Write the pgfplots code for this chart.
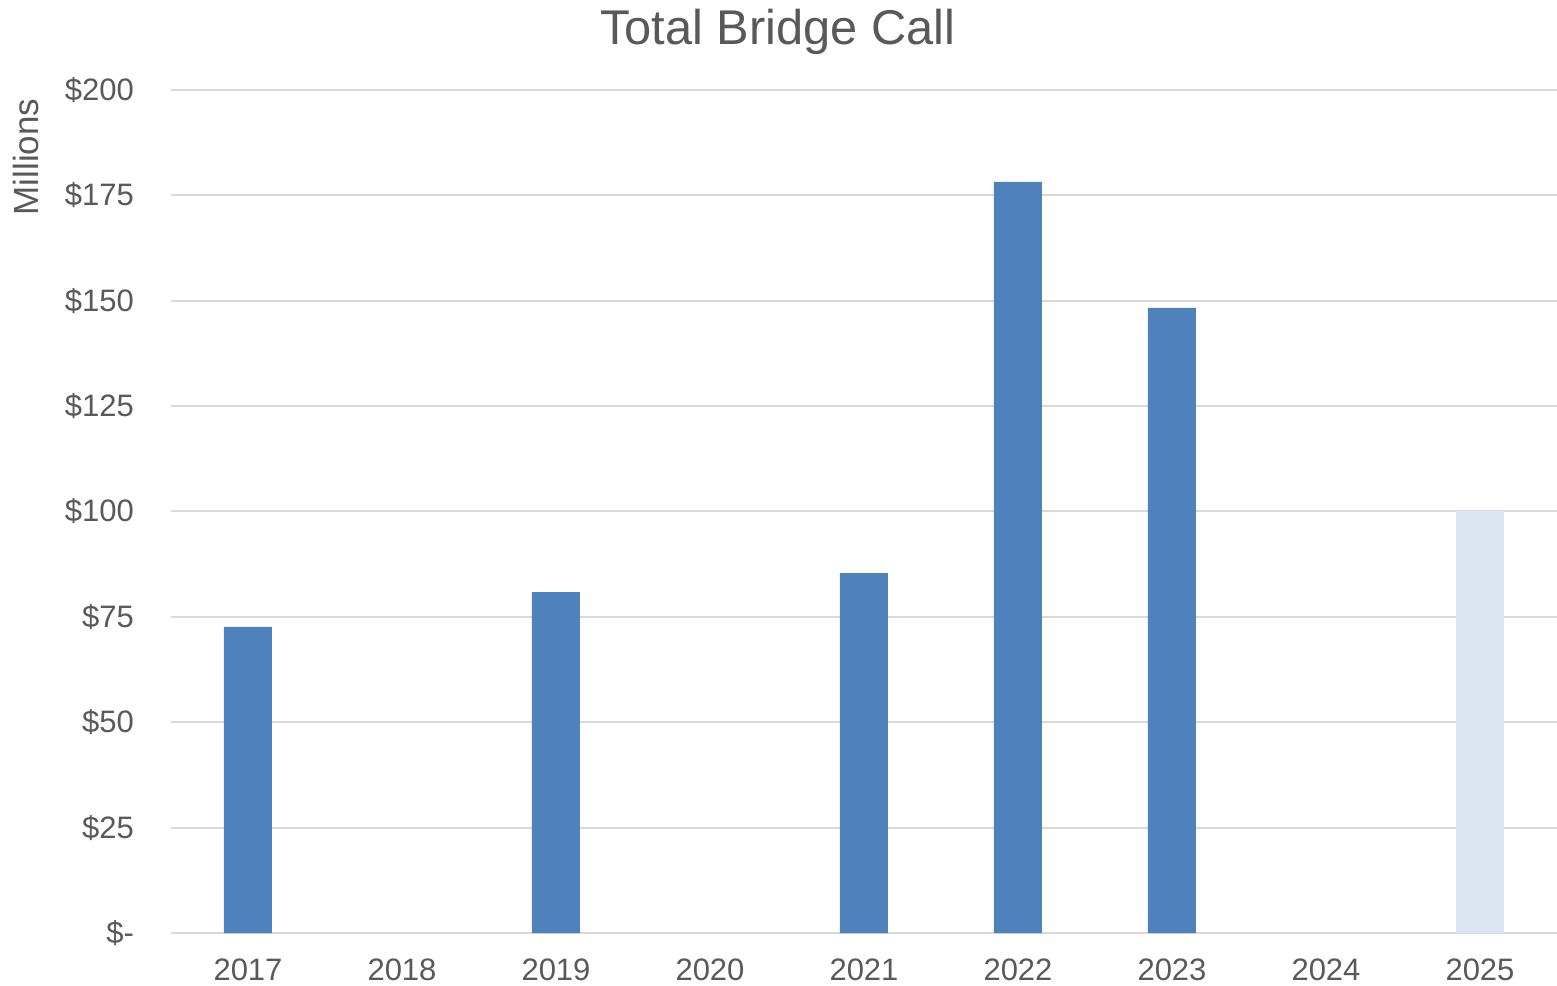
\documentclass[border=0pt]{standalone}
\usepackage{pgfplots}
\pgfplotsset{compat=1.18}
\usepackage{fontspec}
\setmainfont{Liberation Sans}
\definecolor{txt}{HTML}{595959}
\definecolor{barblue}{HTML}{4F81BD}
\definecolor{barlight}{HTML}{DCE6F2}
\definecolor{gridc}{HTML}{D9D9D9}
\begin{document}
\begin{tikzpicture}
\path[use as bounding box] (-85.5pt,-26pt) rectangle (693pt,466.5pt);
\begin{axis}[
  at={(0,0)}, anchor=south west,
  scale only axis,
  width=693pt, height=421.5pt,
  xmin=-0.5, xmax=8.5,
  ymin=0, ymax=200,
  axis line style={draw=none},
  xtick={0,1,2,3,4,5,6,7,8},
  xticklabels={2017,2018,2019,2020,2021,2022,2023,2024,2025},
  ytick={0,25,50,75,100,125,150,175,200},
  yticklabels={\$-,\$25,\$50,\$75,\$100,\$125,\$150,\$175,\$200},
  major tick length=0pt,
  ymajorgrids, grid style={gridc, line width=1pt},
  tick label style={font=\fontsize{15.5}{18}\selectfont, text=txt},
  yticklabel style={xshift=-15pt},
  xticklabel style={yshift=-9.5pt},
  ybar, bar width=24pt, bar shift=0pt,
  clip=false,
]
\addplot[fill=barblue, draw=none] coordinates {(0,72.6) (2,80.9) (4,85.4) (5,178.2) (6,148.3)};
\addplot[fill=barlight, draw=none] coordinates {(8,100)};
\end{axis}
\node[text=txt, font=\fontsize{24.4}{28}\selectfont] at (303.5pt,450.5pt) {Total Bridge Call};
\node[text=txt, font=\fontsize{17.5}{20}\selectfont, rotate=90] at (-72.5pt,388pt) {Millions};
\end{tikzpicture}
\end{document}
